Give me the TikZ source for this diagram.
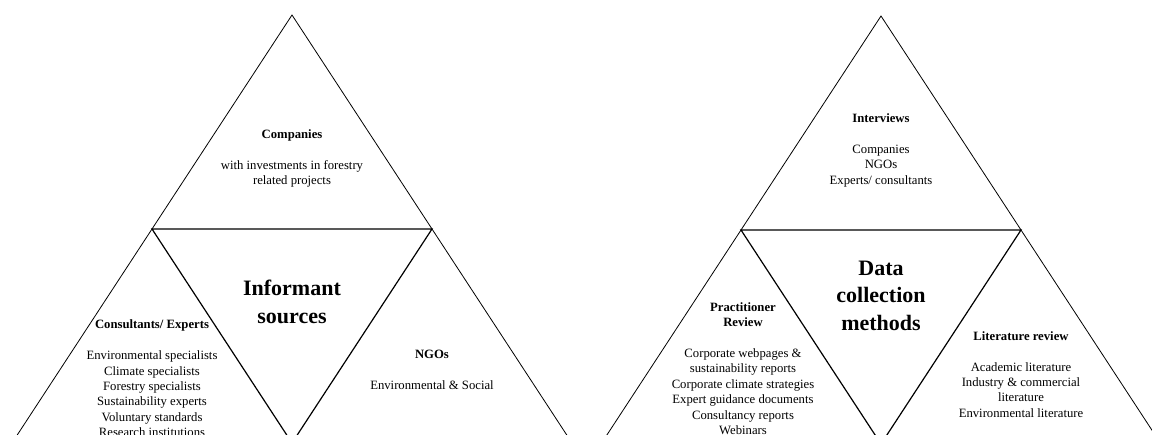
\documentclass[tikz,border=0pt]{standalone}
\usepackage{fontspec}
\setmainfont{Liberation Serif}
\begin{document}
\begin{tikzpicture}[x=1pt,y=-1pt,
  outerline/.style={line width=0.8pt,line join=miter},
  innerline/.style={line width=1.2pt,line join=miter},
  body/.style={align=center,inner sep=0pt,font=\fontsize{12.7}{15.4}\selectfont},
  title/.style={align=center,inner sep=0pt,font=\fontsize{22}{27.5}\selectfont\bfseries}]
\useasboundingbox (0,0) rectangle (1152,435);
\clip (0,0) rectangle (1152,435);

% informant sources triangle
\coordinate (LA) at (292,15);
\coordinate (LB) at (12,443);
\coordinate (LC) at (572,443);
\coordinate (LAB) at (152,229);
\coordinate (LAC) at (432,229);
\coordinate (LBC) at (292,443);
\draw[outerline] (LB) -- (LA) -- (LC);
\draw[innerline] (LAB) -- (LAC) -- (LBC) -- cycle;

% data collection triangle
\coordinate (RA) at (881,16);
\coordinate (RB) at (601,444);
\coordinate (RC) at (1161,444);
\coordinate (RAB) at (741,230);
\coordinate (RAC) at (1021,230);
\coordinate (RBC) at (881,444);
\draw[outerline] (RB) -- (RA) -- (RC);
\draw[innerline] (RAB) -- (RAC) -- (RBC) -- cycle;

% labels, informant sources
\node[body] (companies) at (292,158.5) {\textbf{Companies}\\[15.4pt]
  with investments in forestry\\related projects};
\node[title] (informant) at (292,302) {Informant\\sources};
\node[body] (consultants) at (152,378.5) {\textbf{Consultants/ Experts}\\[15.4pt]
  Environmental specialists\\Climate specialists\\Forestry specialists\\
  Sustainability experts\\Voluntary standards\\Research institutions};
\node[body] (ngos) at (432,369.5) {\textbf{NGOs}\\[15.4pt]Environmental \& Social};

% labels, data collection methods
\node[body] (interviews) at (881,150.5) {\textbf{Interviews}\\[15.4pt]
  Companies\\NGOs\\Experts/ consultants};
\node[title] (methods) at (881,295.5) {Data\\collection\\methods};
\node[body] (practitioner) at (743,368.5) {\textbf{Practitioner}\\\textbf{Review}\\[15.4pt]
  Corporate webpages \&\\sustainability reports\\Corporate climate strategies\\
  Expert guidance documents\\Consultancy reports\\Webinars};
\node[body] (literature) at (1021,374.5) {\textbf{Literature review}\\[15.4pt]
  Academic literature\\Industry \& commercial\\literature\\Environmental literature};
\end{tikzpicture}
\end{document}
